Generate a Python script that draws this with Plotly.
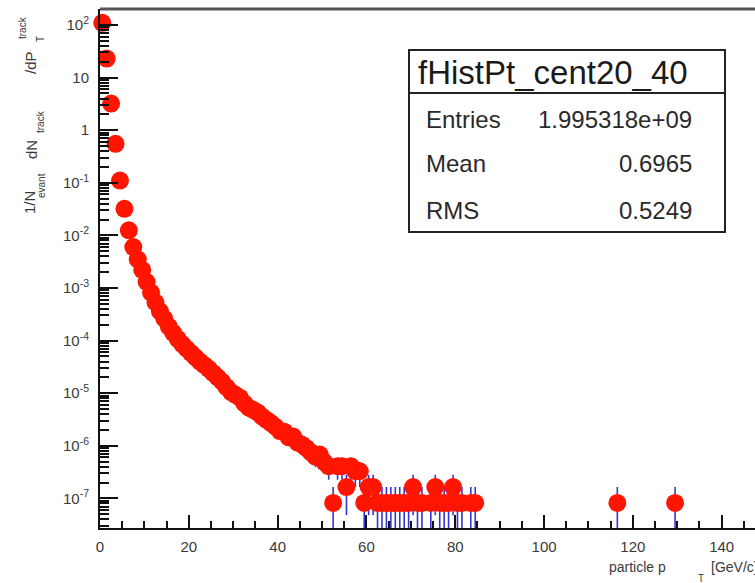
import math
import plotly.graph_objects as go

# ---------------- data ----------------
bin_width = 1.0  # GeV/c
# per-bin yields for bins 0..51
bulk_yield = [1.10e2, 2.3e1, 3.2, 0.55, 0.11, 3.2e-2, 1.25e-2, 6.0e-3, 3.5e-3, 2.2e-3,
              1.3e-3, 8.2e-4, 5.3e-4, 3.6e-4, 2.6e-4, 1.85e-4, 1.4e-4, 1.08e-4, 8.6e-5, 7.0e-5,
              5.8e-5, 4.8e-5, 4.0e-5, 3.4e-5, 2.9e-5, 2.4e-5, 2.0e-5, 1.65e-5, 1.3e-5, 1.05e-5,
              9.3e-6, 8.2e-6, 6.4e-6, 5.3e-6, 4.8e-6, 4.3e-6, 3.6e-6, 3.1e-6, 2.7e-6, 2.3e-6,
              1.9e-6, 1.85e-6, 1.45e-6, 1.5e-6, 1.15e-6, 1.05e-6, 9.0e-7, 7.5e-7, 6.2e-7, 6.8e-7,
              4.9e-7, 4.1e-7]
# yield corresponding to one entry in a bin
count_unit = 8.2e-8
# raw counts for bins 52..84
tail_first_bin = 52
tail_counts = [1, 5, 5, 2, 5, 4, 4, 1, 2, 2, 1, 1, 1, 1, 1, 1, 1, 1, 2, 1, 1, 0, 1, 2, 1,
               1, 1, 2, 1, 1, 0, 1, 1]
# isolated high-pT bins
isolated_bins = [116, 129]
isolated_counts = [1, 1]

x_tick_vals = [0, 20, 40, 60, 80, 100, 120, 140]
x_tick_text = ["0", "20", "40", "60", "80", "100", "120", "140"]
y_tick_vals = [1e2, 1e1, 1e0, 1e-1, 1e-2, 1e-3, 1e-4, 1e-5, 1e-6, 1e-7]
y_tick_text = ["10<sup>2</sup>", "10", "1", "10<sup>-1</sup>", "10<sup>-2</sup>",
               "10<sup>-3</sup>", "10<sup>-4</sup>", "10<sup>-5</sup>", "10<sup>-6</sup>",
               "10<sup>-7</sup>"]

stats_title = "fHistPt_cent20_40"
stats_labels = ["Entries", "Mean", "RMS"]
stats_values = ["1.995318e+09", "0.6965", "0.5249"]

# ---------------- assemble histogram ----------------
pt, yv = [], []
for i, v in enumerate(bulk_yield):
    pt.append((i + 0.5) * bin_width)
    yv.append(v)
for j, c in enumerate(tail_counts):
    if c > 0:
        pt.append((tail_first_bin + j + 0.5) * bin_width)
        yv.append(c * count_unit)
for b, c in zip(isolated_bins, isolated_counts):
    if c > 0:
        pt.append((b + 0.5) * bin_width)
        yv.append(c * count_unit)
err = [math.sqrt(v * count_unit) for v in yv]

# ---------------- layout geometry ----------------
W, H = 755, 583
L, R, T, B = 100, 0, 9, 55
PW, PH = W - L - R, H - T - B


def px_x(x):
    return (x - L) / PW


def px_y(y):
    return (H - B - y) / PH


FONT = "Liberation Sans, Arial, Helvetica, sans-serif"
AXC = "#111111"
TXT = "#3a3a3a"

fig = go.Figure()
fig.add_trace(go.Scatter(
    x=pt, y=yv, mode="markers",
    marker=dict(size=1, color="rgba(0,0,0,0)"),
    error_y=dict(type="data", array=err, visible=True, color="#3636d0",
                 thickness=1.6, width=0),
    cliponaxis=True, hoverinfo="skip", showlegend=False))
fig.add_trace(go.Scatter(
    x=pt, y=yv, mode="markers",
    marker=dict(symbol="circle", size=18, color="#ff1500", line=dict(width=0)),
    cliponaxis=False, showlegend=False))

x_minor = [v for v in range(5, 150, 5) if v % 20 != 0]
y_minor = []
for e in range(-8, 3):
    for k in range(2, 10):
        val = k * 10.0 ** e
        if 10 ** -7.563 < val < 10 ** 2.304:
            y_minor.append(val)

fig.update_layout(
    width=W, height=H,
    margin=dict(l=L, r=R, t=T, b=B, pad=0),
    paper_bgcolor="white", plot_bgcolor="white",
    showlegend=False,
    xaxis=dict(
        range=[0, 147.5], tickmode="array", tickvals=x_tick_vals, ticktext=x_tick_text,
        ticks="inside", ticklen=13, tickwidth=2, tickcolor=AXC,
        showline=True, linecolor=AXC, linewidth=2, showgrid=False, zeroline=False,
        tickfont=dict(family=FONT, size=15, color=TXT), ticklabelstandoff=4,
        minor=dict(tickmode="array", tickvals=x_minor, ticks="inside", ticklen=7,
                   tickwidth=1.5, tickcolor=AXC, showgrid=False),
    ),
    yaxis=dict(
        type="log", range=[-7.563, 2.304], tickmode="array",
        tickvals=y_tick_vals, ticktext=y_tick_text,
        ticks="inside", ticklen=18, tickwidth=2, tickcolor=AXC,
        showline=True, linecolor=AXC, linewidth=2, showgrid=False, zeroline=False,
        tickfont=dict(family=FONT, size=15, color=TXT), ticklabelstandoff=6,
        minor=dict(tickmode="array", tickvals=y_minor, ticks="inside", ticklen=9,
                   tickwidth=1.5, tickcolor=AXC, showgrid=False),
    ),
)

# frame top border
fig.add_shape(type="line", xref="paper", yref="paper", x0=0, x1=1, y0=1, y1=1,
              line=dict(color="#555555", width=3))

# stats box
box_l, box_t, box_r, box_b, box_sep = 409, 50, 725, 232, 93
fig.add_shape(type="rect", xref="paper", yref="paper",
              x0=px_x(box_l), x1=px_x(box_r), y0=px_y(box_b), y1=px_y(box_t),
              line=dict(color="#222222", width=2), fillcolor="white", layer="above")
fig.add_shape(type="line", xref="paper", yref="paper",
              x0=px_x(box_l), x1=px_x(box_r), y0=px_y(box_sep), y1=px_y(box_sep),
              line=dict(color="#222222", width=2), layer="above")

ann = []
ann.append(dict(text=stats_title, x=px_x(416), y=px_y(72), xanchor="left", yanchor="middle",
                font=dict(family=FONT, size=33, color="#1a1a1a")))
row_y = [119, 163, 210]
for lab, val, yy in zip(stats_labels, stats_values, row_y):
    ann.append(dict(text=lab, x=px_x(424), y=px_y(yy), xanchor="left", yanchor="middle",
                    font=dict(family=FONT, size=24, color="#2a2a2a")))
    ann.append(dict(text=val, x=px_x(694), y=px_y(yy), xanchor="right", yanchor="middle",
                    font=dict(family=FONT, size=24, color="#2a2a2a")))

# y-axis title pieces (rotated)
ytitle_parts = [
    ("1/N", 15, 30, 203),
    ("evant", 10, 41, 186),
    ("dN", 15, 31, 150),
    ("track", 10, 41, 122),
    ("/dP", 15, 31, 63),
    ("T", 10, 41, 39),
    ("track", 10, 22, 28),
]
for txt, fs, xx, yy in ytitle_parts:
    ann.append(dict(text=txt, x=px_x(xx), y=px_y(yy), xanchor="center", yanchor="middle",
                    textangle=-90, font=dict(family=FONT, size=fs, color=TXT)))

# x-axis title pieces
ann.append(dict(text="particle p", x=px_x(607), y=px_y(567), xanchor="left", yanchor="middle",
                font=dict(family=FONT, size=14, color=TXT)))
ann.append(dict(text="T", x=px_x(696), y=px_y(578), xanchor="left", yanchor="middle",
                font=dict(family=FONT, size=10, color=TXT)))
ann.append(dict(text="[GeV/c]", x=px_x(709), y=px_y(567), xanchor="left", yanchor="middle",
                font=dict(family=FONT, size=14, color=TXT)))

for a in ann:
    a.update(xref="paper", yref="paper", showarrow=False)
fig.update_layout(annotations=ann)

fig.write_html("out.html")
